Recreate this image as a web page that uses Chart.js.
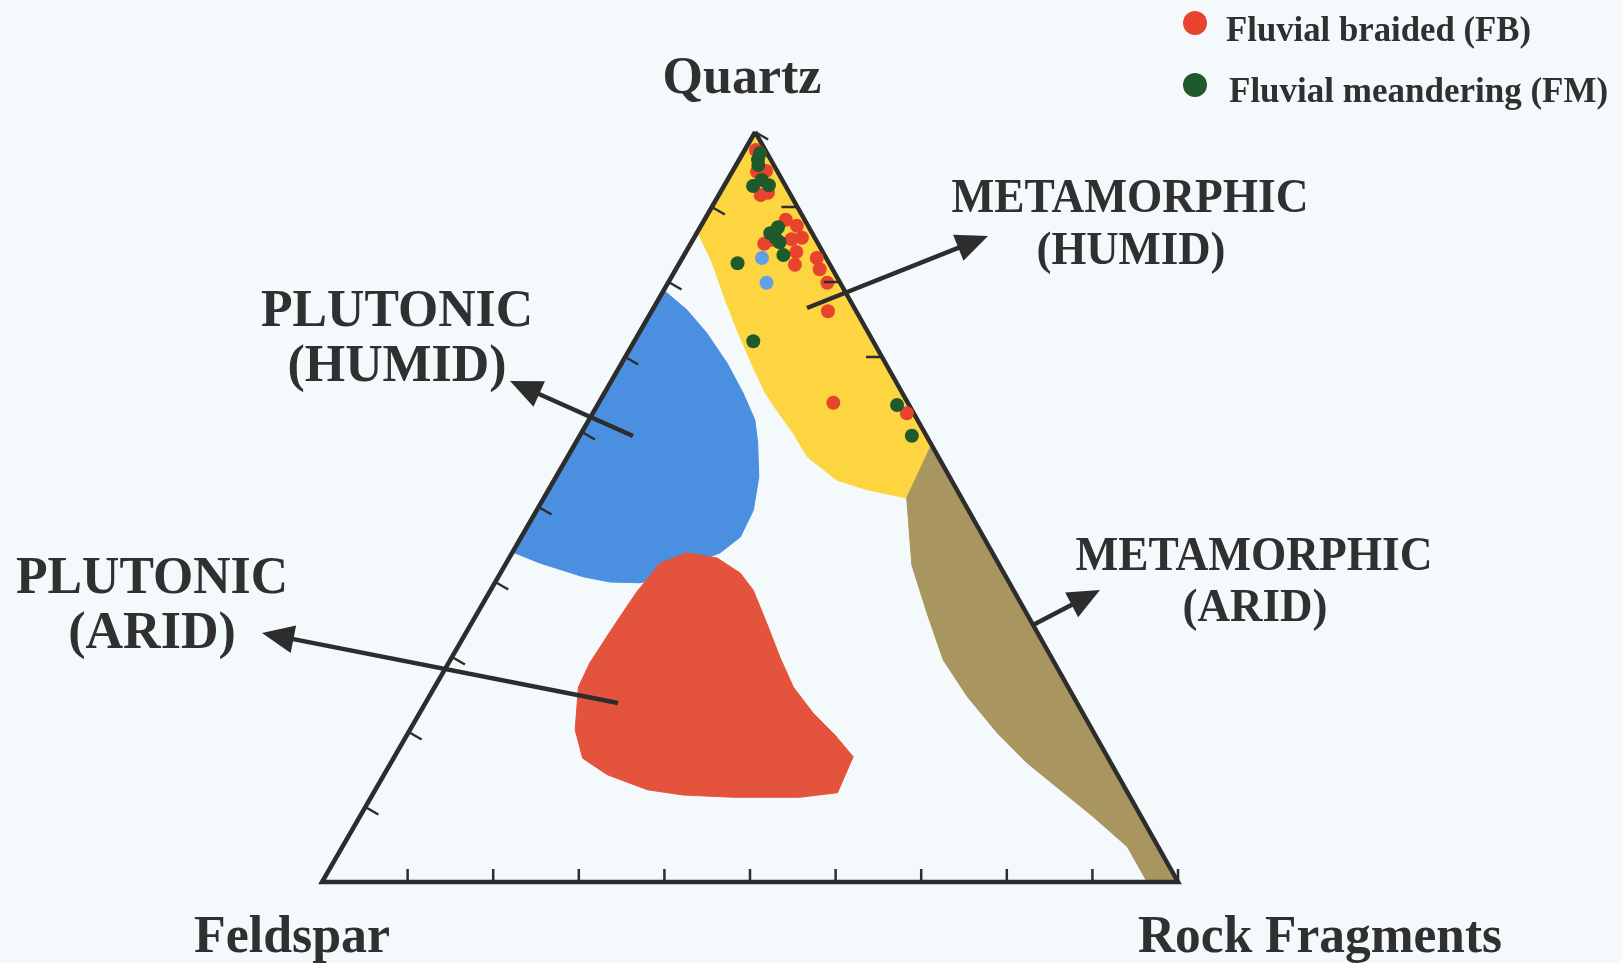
<!DOCTYPE html>
<html>
<head>
<meta charset="utf-8">
<title>QFL provenance diagram</title>
<script src="https://cdn.jsdelivr.net/npm/chart.js@4.4.1/dist/chart.umd.min.js"></script>
<style>
  html, body { margin: 0; padding: 0; background: #f4f9fc; overflow: hidden; }
  canvas { display: block; }
</style>
</head>
<body>
<canvas id="qflCanvas" width="1622" height="963"></canvas>
<script>
// all points are [Q, L] in percent, F = 100 - Q - L
const fbPoints = [
    [97.6, 1.3], [94.7, 2.9], [94.8, 3.9], [91.6, 4.9], [91.9, 5.6],
    [88.3, 9.5], [87.5, 11.2], [85.6, 9.3], [85.7, 11.5], [85.9, 12.6],
    [84.0, 12.9], [82.3, 13.6], [83.2, 15.7], [81.7, 16.8], [79.9, 18.6],
    [76.1, 20.6], [63.9, 27.4], [62.5, 36.7], [85.1, 8.6]
];
const fmPoints = [
    [96.3, 2.2], [97.2, 2.0], [92.8, 3.4], [93.6, 4.0], [92.9, 5.2],
    [86.5, 8.6], [87.3, 9.1], [85.3, 10.3], [85.9, 9.5], [83.6, 11.6],
    [82.5, 6.8], [72.1, 13.9], [63.6, 35.0], [59.5, 38.8], [95.6, 2.6]
];
const otherPoints = [[83.2, 9.3], [79.9, 11.5]];

// provenance fields
const metamorphicHumid = [
    [100, 0], [58.3, 41.7], [51.2, 42.4], [52.3, 37.2], [53.6, 33.0],
    [56.7, 28.0], [59.9, 24.7], [62.9, 21.3], [65.2, 18.8], [68.9, 15.4],
    [73.3, 11.5], [77.9, 7.6], [82.7, 3.7], [86.7, 0]
];
const metamorphicArid = [
    [58.3, 41.7], [0, 100], [0, 96.4], [4.7, 91.7], [8.7, 85.7],
    [12.3, 80.0], [15.9, 74.3], [19.9, 68.8], [24.7, 62.9], [29.6, 57.6],
    [35.9, 52.5], [42.3, 47.5], [51.2, 42.4]
];
const plutonicHumid = [
    [78.9, 0], [76.3, 4.0], [73.2, 7.9], [69.2, 12.3], [65.2, 16.2],
    [61.6, 19.4], [58.5, 21.3], [54.0, 23.7], [49.6, 25.3], [46.0, 25.6],
    [43.9, 24.3], [42.3, 21.6], [40.5, 19.0], [39.9, 17.0], [40.0, 13.4],
    [40.7, 9.9], [41.9, 6.0], [42.5, 4.0], [44.0, 0]
];
const plutonicArid = [
    [43.9, 20.4], [43.2, 24.3], [41.2, 28.0], [38.9, 30.7], [34.5, 34.5],
    [30.0, 38.3], [26.0, 41.9], [22.5, 46.0], [19.6, 50.0], [16.7, 53.6],
    [14.3, 53.9], [11.9, 54.2], [11.3, 50.1], [11.3, 42.3], [11.6, 36.3],
    [12.3, 31.8], [14.3, 26.1], [16.5, 22.1], [20.3, 19.3], [26.0, 16.8],
    [29.2, 16.5], [34.0, 16.8], [38.7, 17.2], [42.5, 18.0]
];
const frame = [[100, 0], [0, 0], [0, 100]];

// tick values along the edges
const baseTicks = [10, 20, 30, 40, 50, 60, 70, 80, 90, 100];
const leftTicks = [10, 20, 30, 40, 50, 60, 70, 80, 90, 100];
const rightTicks = [70, 80, 90];

const APEX = 0.506; // apex of the original sits a bit right of the middle

function toXY(p) {
    return { x: p[1] + APEX * p[0], y: p[0] };
}
function closed(list) {
    return list.concat([list[0]]).map(toXY);
}

const ink = '#2d2d2d';
const fbColor = '#e8432e';
const fmColor = '#1e5a2c';

const arrows = [
    { from: [807, 308], to: [988, 236] },
    { from: [633, 436], to: [510, 381] },
    { from: [618, 703], to: [262, 633] },
    { from: [1033, 625], to: [1100, 590] }
];

const labels = [
    ['Quartz', 742, 93, 52, 160],
    ['Feldspar', 292, 952, 52, 196],
    ['Rock Fragments', 1320, 952, 52, 364],
    ['METAMORPHIC', 1130, 212, 48, 357],
    ['(HUMID)', 1131, 264, 46, 189],
    ['PLUTONIC', 397, 326, 52, 272],
    ['(HUMID)', 397, 381, 52, 219],
    ['PLUTONIC', 152, 593, 52, 272],
    ['(ARID)', 152, 648, 52, 169],
    ['METAMORPHIC', 1254, 570, 48, 357],
    ['(ARID)', 1255, 621, 46, 145]
];

function serif(size) {
    return 'bold ' + size + 'px "Liberation Serif", "Times New Roman", serif';
}

// ticks, arrows, text and legend
const decor = {
    id: 'decor',
    afterDatasetsDraw(chart) {
        const ctx = chart.ctx;
        const xs = chart.scales.x;
        const ys = chart.scales.y;
        const px = (q, l) => [xs.getPixelForValue(l + APEX * q), ys.getPixelForValue(q)];

        ctx.save();
        ctx.strokeStyle = ink;
        ctx.lineWidth = 2.5;
        ctx.lineCap = 'butt';
        ctx.beginPath();
        baseTicks.forEach(v => {
            const p = px(0, v);
            ctx.moveTo(p[0], p[1]);
            ctx.lineTo(p[0], p[1] - 13);
        });
        leftTicks.forEach(v => {
            const p = px(v, 0);
            ctx.moveTo(p[0], p[1]);
            ctx.lineTo(p[0] + 13, p[1] + 7.5);
        });
        rightTicks.forEach(v => {
            const p = px(v, 100 - v);
            ctx.moveTo(p[0], p[1]);
            ctx.lineTo(p[0] - 16, p[1]);
        });
        ctx.stroke();

        // arrows
        ctx.fillStyle = ink;
        ctx.lineWidth = 4.5;
        arrows.forEach(a => {
            const dx = a.to[0] - a.from[0];
            const dy = a.to[1] - a.from[1];
            const len = Math.sqrt(dx * dx + dy * dy);
            const ux = dx / len, uy = dy / len;
            const head = 32, half = 14;
            const bx = a.to[0] - ux * head, by = a.to[1] - uy * head;
            ctx.beginPath();
            ctx.moveTo(a.from[0], a.from[1]);
            ctx.lineTo(bx + ux * 4, by + uy * 4);
            ctx.stroke();
            ctx.beginPath();
            ctx.moveTo(a.to[0], a.to[1]);
            ctx.lineTo(bx - uy * half, by + ux * half);
            ctx.lineTo(bx + uy * half, by - ux * half);
            ctx.closePath();
            ctx.fill();
        });

        // labels
        ctx.fillStyle = '#303030';
        ctx.textBaseline = 'alphabetic';
        ctx.textAlign = 'center';
        labels.forEach(t => {
            ctx.font = serif(t[3]);
            ctx.fillText(t[0], t[1], t[2], t[4]);
        });

        // legend
        const items = [
            { text: 'Fluvial braided (FB)', color: fbColor, dot: [1195, 23], pos: [1226, 41], w: 305 },
            { text: 'Fluvial meandering (FM)', color: fmColor, dot: [1195, 85], pos: [1229, 102], w: 380 }
        ];
        ctx.textAlign = 'left';
        items.forEach(it => {
            ctx.fillStyle = it.color;
            ctx.beginPath();
            ctx.arc(it.dot[0], it.dot[1], 12, 0, Math.PI * 2);
            ctx.fill();
            ctx.fillStyle = '#303030';
            ctx.font = serif(35);
            ctx.fillText(it.text, it.pos[0], it.pos[1], it.w);
        });
        ctx.restore();
    }
};

function field(label, list, color, order) {
    return {
        type: 'line',
        label: label,
        data: closed(list),
        backgroundColor: color,
        borderColor: color,
        borderWidth: 1,
        fill: 'shape',
        pointRadius: 0,
        tension: 0,
        order: order
    };
}

const qflChart = document.getElementById('qflCanvas');

new Chart(qflChart, {
    type: 'scatter',
    data: {
        datasets: [
            {
                label: 'Fluvial braided (FB)',
                data: fbPoints.map(toXY),
                backgroundColor: fbColor,
                borderWidth: 0,
                pointRadius: 7,
                order: 1
            },
            {
                label: 'Fluvial meandering (FM)',
                data: fmPoints.map(toXY),
                backgroundColor: fmColor,
                borderWidth: 0,
                pointRadius: 7,
                order: 0
            },
            {
                label: 'other',
                data: otherPoints.map(toXY),
                backgroundColor: '#62a0e4',
                borderWidth: 0,
                pointRadius: 7,
                order: 1
            },
            {
                type: 'line',
                label: 'frame',
                data: closed(frame),
                borderColor: ink,
                borderWidth: 4.5,
                borderJoinStyle: 'miter',
                pointRadius: 0,
                fill: false,
                tension: 0,
                order: 2
            },
            field('Plutonic (arid)', plutonicArid, '#e4533b', 3),
            field('Plutonic (humid)', plutonicHumid, '#4b8fe0', 4),
            field('Metamorphic (arid)', metamorphicArid, '#a8955f', 5),
            field('Metamorphic (humid)', metamorphicHumid, '#fcd540', 6)
        ]
    },
    options: {
        responsive: false,
        animation: false,
        layout: { padding: 0, autoPadding: false },
        scales: {
            x: { type: 'linear', min: -37.62, max: 151.87, bounds: 'data', display: false },
            y: { type: 'linear', min: -10.8, max: 117.6, bounds: 'data', display: false }
        },
        plugins: {
            legend: { display: false },
            tooltip: { enabled: false }
        }
    },
    plugins: [decor]
});
</script>
</body>
</html>
